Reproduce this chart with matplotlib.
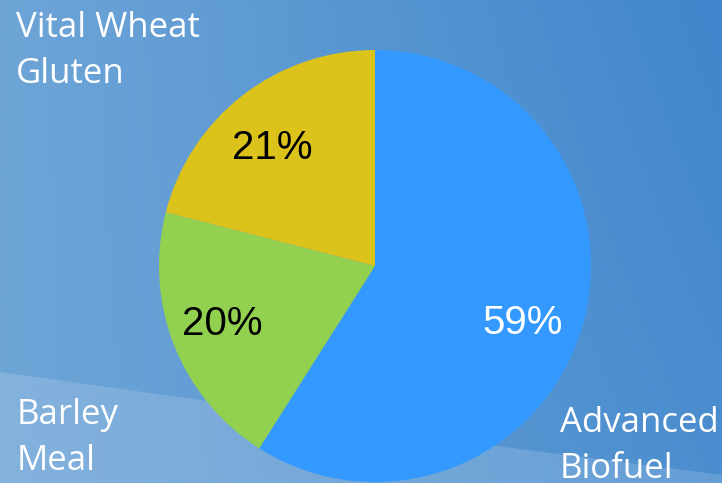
import numpy as np
import matplotlib.pyplot as plt
from matplotlib.patches import Polygon

categories = ['Advanced\nBiofuel', 'Barley\nMeal', 'Vital Wheat\nGluten']
shares = [59, 20, 21]
colors = ['#3399ff', '#92d050', '#dcc31b']
pct_colors = ['white', 'black', 'black']

W, H = 722, 483
fig = plt.figure(figsize=(W / 100, H / 100), dpi=100)

# background gradient
bg = fig.add_axes([0, 0, 1, 1])
x = np.linspace(0, 1, 300)
y = np.linspace(0, 1, 200)
X, Y = np.meshgrid(x, y)
c0 = np.array([110, 165, 215]) / 255
c1 = np.array([64, 134, 204]) / 255
t = np.clip(0.75 * X + 0.25 * (1 - Y) * X, 0, 1)[..., None]
img = c0 * (1 - t) + c1 * t
bg.imshow(img, extent=[0, W, H, 0], aspect='auto')
swoosh = Polygon([[0, 372], [200, 400], [450, 440], [722, 475], [722, 483], [0, 483]],
                 closed=True, facecolor='white', alpha=0.15, edgecolor='none')
bg.add_patch(swoosh)
bg.set_xlim(0, W)
bg.set_ylim(H, 0)
bg.axis('off')

# pie
cx, cy, r = 375, 266, 216
ax = fig.add_axes([(cx - r) / W, (H - cy - r) / H, 2 * r / W, 2 * r / H])
wedges, texts, autotexts = ax.pie(shares, colors=colors, startangle=90, counterclock=False,
                                  autopct='%.0f%%', pctdistance=0.73,
                                  textprops=dict(family='Liberation Sans', fontsize=29))
# small nudges to match the original label placement
nudges = [(-0.02, -0.06), (-0.03, 0.0), (-0.03, -0.03)]
for at, c, (dx, dy) in zip(autotexts, pct_colors, nudges):
    at.set_color(c)
    px, py = at.get_position()
    at.set_position((px + dx, py + dy))
ax.set_xlim(-1, 1)
ax.set_ylim(-1, 1)
ax.set_aspect('equal')
ax.axis('off')

# category labels
label_pos = [(560, 406), (17, 398), (16, 11)]
for lab, (lx, ly) in zip(categories, label_pos):
    fig.text(lx / W, 1 - ly / H, lab, color='white', fontsize=25, family='Open Sans',
             ha='left', va='top', linespacing=1.48)

fig.savefig('out.png', dpi=100)
